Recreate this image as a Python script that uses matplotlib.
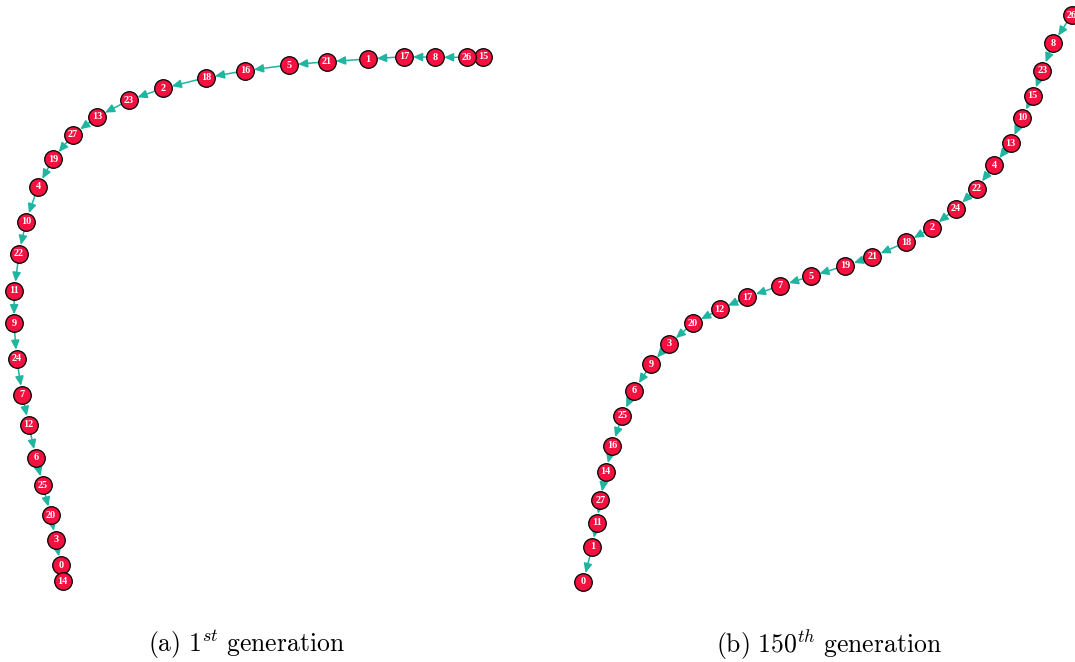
import numpy as np
import matplotlib.pyplot as plt
from matplotlib.patches import FancyArrowPatch

plt.rcParams['mathtext.fontset'] = 'cm'

# tour order and node layout (drawing units) for the 1st generation
gen1_order = [15, 26, 8, 17, 1, 21, 5, 16, 18, 2, 23, 13, 27, 19, 4, 10,
              22, 11, 9, 24, 7, 12, 6, 25, 20, 3, 0, 14]
gen1_x = [483, 467, 435, 404, 368, 327, 289, 245, 206, 163, 129, 97, 73, 53, 38, 26,
          19, 14.3, 14, 16.7, 22.3, 28.7, 36, 42.7, 50.7, 55.7, 60.7, 62.7]
gen1_y = [56.7, 57.3, 57.3, 56.7, 59, 61.7, 65, 70.7, 77.7, 88.3, 100.3, 116.7, 134.7, 159, 186.7, 221.7,
          253.7, 290.7, 323.3, 358.7, 394.7, 424.7, 458, 485, 515.3, 539.7, 565.3, 581.3]

# tour order and node layout for the 150th generation
gen150_order = [26, 8, 23, 15, 10, 13, 4, 22, 24, 2, 18, 21, 19, 5, 7, 17, 12,
                20, 3, 9, 6, 25, 16, 14, 27, 11, 1, 0]
gen150_x = [1071.7, 1053.3, 1042.3, 1032.7, 1022.3, 1010.7, 994, 976.7, 955.7, 931.7, 906, 872.3,
            845.3, 810.7, 780.3, 747.3, 719.7, 693, 669, 651, 634, 622.3, 612.3, 605.7, 600.3,
            596.7, 592.3, 583.3]
gen150_y = [15, 43.3, 70.7, 95.7, 117.7, 143.3, 165.3, 188.7, 208.7, 227.7, 242.3, 256.7,
            265.7, 276.3, 285.7, 297, 309.3, 323.3, 344, 364.3, 390.7, 415.7, 445.7, 471.7, 500.3,
            522.7, 546.7, 581.7]

captions = [r'$\mathrm{(a)}\ 1^{st}\ \mathrm{generation}$',
            r'$\mathrm{(b)}\ 150^{th}\ \mathrm{generation}$']
caption_x = [246, 829]

node_color = '#F5113F'
edge_color = '#1FB5A0'

fig = plt.figure(figsize=(10.75, 6.62), dpi=100)
ax = fig.add_axes([0, 0, 1, 1])
ax.set_xlim(0, 1075)
ax.set_ylim(662, 0)
ax.axis('off')


def draw_tour(order, xs, ys):
    # directed edges along the tour
    for i in range(len(order) - 1):
        arr = FancyArrowPatch((xs[i], ys[i]), (xs[i + 1], ys[i + 1]),
                              arrowstyle='-|>,head_length=0.55,head_width=0.25',
                              mutation_scale=10, color=edge_color, lw=1.1,
                              shrinkA=6.5, shrinkB=6.5, zorder=1)
        ax.add_patch(arr)
    # nodes with white labels
    for n, x, y in zip(order, xs, ys):
        ax.scatter([x], [y], s=160, c=node_color, edgecolors='black',
                   linewidths=0.9, zorder=2)
        ax.text(x, y, str(n), color='white', fontsize=7.3, fontweight='bold',
                family='Liberation Serif', ha='center', va='center', zorder=3)


draw_tour(gen1_order, gen1_x, gen1_y)
draw_tour(gen150_order, gen150_x, gen150_y)

for cap, cx in zip(captions, caption_x):
    ax.text(cx, 645, cap, fontsize=18.5, ha='center', va='center')

fig.savefig('out.png', dpi=100)
plt.close(fig)
